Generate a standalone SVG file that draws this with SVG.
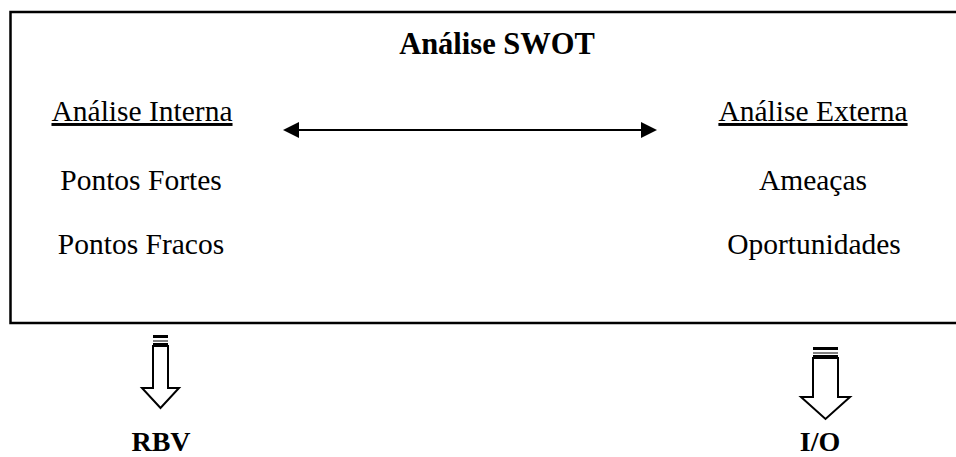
<svg xmlns="http://www.w3.org/2000/svg" width="956" height="457" viewBox="0 0 956 457">
  <style>
    text { font-family: "Liberation Serif", "Times New Roman", serif; fill: #000; }
    .t { font-size: 29.5px; }
    .h { font-size: 30.5px; font-weight: bold; }
    .b { font-size: 28px; font-weight: bold; }
    .blk { fill: #fff; stroke: #000; stroke-width: 2; stroke-linejoin: miter; }
    .bar { stroke: #000; }
  </style>
  <defs>
    <marker id="tri" markerWidth="8" markerHeight="8" refX="7" refY="4" orient="auto-start-reverse" markerUnits="strokeWidth">
      <path d="M0,0 L8,4 L0,8 Z" fill="#000"/>
    </marker>
  </defs>
  <rect width="956" height="457" fill="#fff"/>

  <!-- SWOT frame (open on the right edge) -->
  <g id="swot">
    <path d="M970,12 L10.5,12 L10.5,323 L970,323" fill="none" stroke="#000" stroke-width="2.5"/>
    <text class="h" x="497" y="54" text-anchor="middle">Análise SWOT</text>
  </g>

  <g id="interna">
    <text class="t" x="142" y="121" text-anchor="middle" text-decoration="underline">Análise Interna</text>
    <text class="t" x="141" y="190" text-anchor="middle">Pontos Fortes</text>
    <text class="t" x="141" y="254" text-anchor="middle">Pontos Fracos</text>
  </g>

  <g id="externa">
    <text class="t" x="813" y="121" text-anchor="middle" text-decoration="underline">Análise Externa</text>
    <text class="t" x="813" y="190" text-anchor="middle">Ameaças</text>
    <text class="t" x="814" y="254" text-anchor="middle">Oportunidades</text>
  </g>

  <g id="rbv">
    <text class="b" x="161" y="451" text-anchor="middle">RBV</text>
  </g>
  <g id="io">
    <text class="b" x="820" y="451" text-anchor="middle">I/O</text>
  </g>

  <g id="connectors">
    <!-- two-way link between the halves -->
    <line x1="285" y1="130" x2="655" y2="130" stroke="#000" stroke-width="2" marker-start="url(#tri)" marker-end="url(#tri)"/>

    <!-- striped block arrow towards RBV -->
    <path class="blk" d="M153,346 L168,346 L168,388 L179,388 L160.5,408 L142,388 L153,388 Z"/>
    <rect x="153" y="335" width="15" height="3" fill="#000"/>
    <line class="bar" x1="153" y1="341" x2="168" y2="341" stroke-width="1"/>
    <rect x="153" y="343" width="15" height="3" fill="#000"/>

    <!-- striped block arrow towards I/O -->
    <path class="blk" d="M813,358 L838,358 L838,397 L850,397 L825.5,419 L801,397 L813,397 Z"/>
    <rect x="813" y="347" width="25" height="3" fill="#000"/>
    <line class="bar" x1="813" y1="353" x2="838" y2="353" stroke-width="1"/>
    <rect x="813" y="355" width="25" height="3" fill="#000"/>
  </g>
</svg>
